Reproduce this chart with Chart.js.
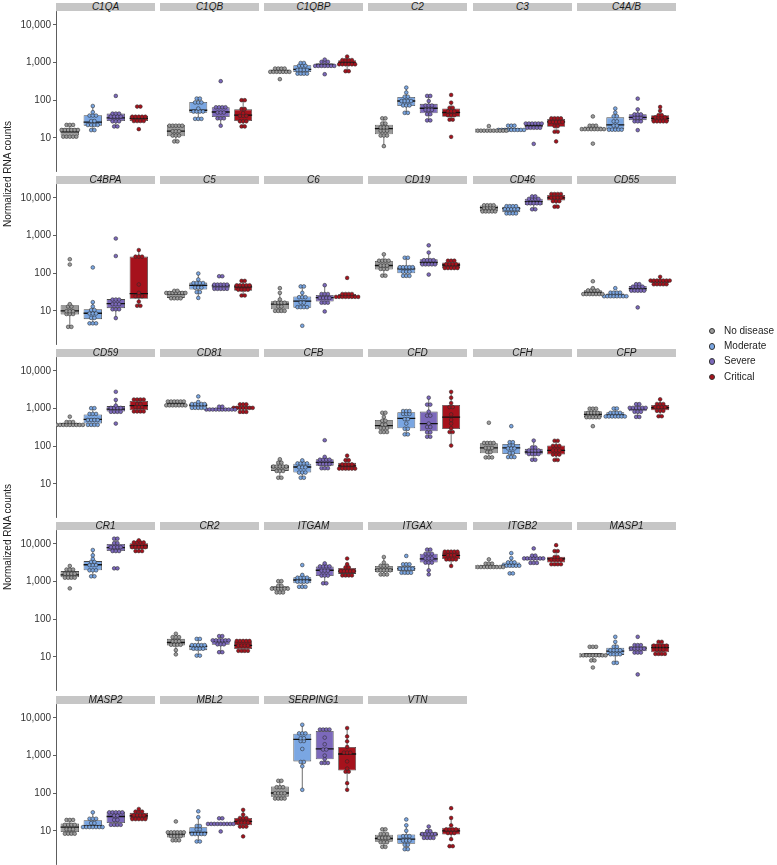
<!DOCTYPE html>
<html><head><meta charset="utf-8">
<script src="https://cdn.jsdelivr.net/npm/chart.js@4.4.1/dist/chart.umd.min.js"></script>
<style>
html,body{margin:0;padding:0;background:#fff;}
#wrap{position:relative;width:777px;height:865px;overflow:hidden;font-family:"Liberation Sans",Arial,sans-serif;}
.strip{position:absolute;height:8px;background:#c6c6c6;color:#1a1a1a;font-style:italic;font-size:10px;line-height:8px;text-align:center;white-space:nowrap;overflow:visible;}
canvas{position:absolute;}
.ytitle{position:absolute;font-size:10px;color:#222;white-space:nowrap;transform:translate(-50%,-50%) rotate(-90deg);}
.leg{position:absolute;font-size:10px;color:#222;white-space:nowrap;line-height:12px;}
.dot{position:absolute;width:4.5px;height:4.5px;border-radius:50%;border:0.6px solid #333;}
</style>
</head><body><div id="wrap"></div>
<script>
// ---------- data ----------
const groups = ['No disease', 'Moderate', 'Severe', 'Critical'];
const genes = ['C1QA','C1QB','C1QBP','C2','C3','C4A/B',
               'C4BPA','C5','C6','CD19','CD46','CD55',
               'CD59','CD81','CFB','CFD','CFH','CFP',
               'CR1','CR2','ITGAM','ITGAX','ITGB2','MASP1',
               'MASP2','MBL2','SERPING1','VTN'];
const yTicks = [10, 100, 1000, 10000];

// each gene: [No disease, Moderate, Severe, Critical] normalized counts
const C1QA = [[22,22,22,18,18,18,14.5,14.5,14.5,11.5,11.5,10,10,10],[70,48,40,40,38,30,26,24,22,21,20,16,16],[130,44,44,44,40,35,34,34,30,28,25,20,20],[73,63,40,38,35,33,33,30,28,28,26,17]];
const C1QB = [[22,22,22,22,20,16,15,14,12,11,11,8,8],[122,100,95,90,80,60,54,52,48,46,35,30,29],[320,70,66,64,60,50,47,44,36,34,30,21],[100,100,60,57,45,42,40,35,30,28,25,20,20]];
const C1QBP = [[740,700,680,650,620,600,600,580,560,540,520,362],[1000,950,900,850,760,700,660,620,580,560,520,480,460],[1200,1150,1000,950,900,880,870,850,800,780,740,490],[1450,1300,1230,1150,1050,1000,980,950,900,850,810,600,580]];
const C2 = [[33,33,25,23,20,18,18,17,15,14,12,11,11,6],[216,160,125,122,100,100,95,90,80,70,66,46,46],[130,130,95,80,75,65,61,55,50,45,40,30,28],[138,86,66,60,55,50,47,44,40,36,33,28,10.6]];
const C3 = [[20.5,16,16,16,16,15.5,15.5,15.5,15.5,15,15,15,15],[21,21,21,17.5,17,17,17,16.5,16,16,15,15],[25,25,25,25,25,23,19,19,19,19,18,6.9],[33,33,33,33,28,28,28,25,25,22,19,14.5,14.5,8]];
const C4AB = [[37,22,20,20,18,17,17,17,16,16,16,16,7],[60,47,40,35,30,25,22,20,18,17,16,16,15],[110,57,44,42,40,36,34,32,30,28,25,16],[66,52,40,40,38,35,33,32,30,28,26,26,25]];
const C4BPA = [[235,170,15,14,12,10,10,9.5,9,8,7.5,4,3.5],[142,17,13,11,10,9,8.6,8,7,6,5,5,4.3],[835,286,22,20,18,16,15,14,12,11,10,6.4],[412,276,276,276,50,30,27,25,22,17.6,13.6,13.6]];
const C5 = [[34,34,33,33,28,28,28,28,27,22,22,21,21],[98,68,60,55,50,50,45,40,38,33,30,22],[83,83,55,52,50,47,45,42,40,38,37,35],[65,60,53,50,47,45,43,40,37,34,33,26,25]];
const C6 = [[40,30,20,18,16,15,15,14,12,11,10,9,9],[47,42,30,24,23,22,18,15,13,12,12,12,4],[48,30,28,26,24,23,22,20,18,17,15,9.6],[75,28,28,28,28,25,25,25,25,22,22,22,22]];
const CD19 = [[318,230,220,210,200,170,160,150,140,125,120,92,80],[260,255,160,150,140,140,130,120,110,100,90,80,80],[550,355,245,230,210,200,190,180,170,160,155,92],[230,220,200,190,180,170,160,150,140,130,130,125]];
const CD46 = [[6500,6500,6300,6300,6000,5800,5500,5000,4800,4500,4200,4000,4000],[6300,6300,6000,5800,5600,5500,5300,5000,4600,4200,3800,3700,3600],[11000,11000,10500,9500,9000,8500,8000,7500,7000,6500,6500,5000,5000],[13500,13000,12500,12000,11000,10500,10000,9500,9000,8500,7500,6000,5700]];
const CD55 = [[61,40,38,35,33,32,31,30,29,28,27,26,25],[40,33,31,29,28,27,26,26,25,24,23,22,22],[52,50,48,45,42,40,38,36,34,32,31,12.3],[80,70,68,66,64,62,60,58,56,54,52,50,46]];
const CD59 = [[610,460,450,420,410,400,400,390,380,370,350,340,330],[1050,1000,800,700,650,550,515,480,450,400,380,350,340],[2800,1700,1200,1150,1000,990,950,900,850,800,750,400],[1900,1800,1700,1600,1400,1250,1200,1100,1000,900,850,800,780]];
const CD81 = [[1700,1650,1600,1550,1450,1400,1350,1300,1250,1200,1150,1100,1100],[2100,1500,1450,1350,1300,1250,1200,1150,1100,1050,1000,950],[1150,1100,1050,1000,1000,980,950,920,900,880,860,850],[1400,1300,1200,1150,1100,1080,1050,1000,1000,950,900,750,740]];
const CFB = [[45,38,35,32,30,29,28,26,24,22,20,15,14],[42,38,36,34,32,30,28,25,22,20,18,15,14],[144,52,48,45,42,40,37,35,33,30,28,25,24],[56,45,40,36,34,32,30,28,27,26,25,24,23]];
const CFD = [[800,750,600,500,450,400,350,330,300,280,260,230,218],[900,850,820,800,700,650,550,500,400,300,280,230,185],[1950,1300,1250,830,700,600,400,350,300,250,220,190,167],[2780,1950,1400,1200,1000,700,500,400,300,250,227,104]];
const CFH = [[420,135,130,120,110,95,90,85,75,65,55,50,46],[340,130,125,115,100,95,90,80,70,62,55,50,48],[141,95,90,85,80,75,70,68,65,60,56,45,42],[144,135,110,105,95,85,77,70,65,60,55,44,42]];
const CFP = [[1100,950,900,850,800,750,700,650,620,600,560,535,340],[1120,900,850,800,750,700,680,650,620,600,580,570,560],[1430,1200,1150,1100,1050,1000,980,950,900,850,750,600,600],[1770,1400,1300,1250,1200,1100,1050,1000,950,900,800,650,600]];
const CR1 = [[2600,2300,2100,1900,1800,1600,1500,1450,1400,1300,1200,1150,660],[6900,5000,4000,3500,3200,3000,2800,2500,2200,2000,1800,1500,1270],[14700,13000,11000,10000,9000,8500,8000,7500,7000,6500,6000,2300,2200],[12500,12000,11000,10500,10000,9000,8900,8500,8000,7500,7000,6500,6000]];
const CR2 = [[41,37,33,30,28,26,24,23,22,20,19,15,11.6],[32,28,22,21,20,19,19,18,17,15,15,11,10.5],[36,35,30,29,28,27,26,25,23,21,20,13.5,13],[29,28,27,26,24,22,20,19,18,16,14,13,13]];
const ITGAM = [[1050,1000,800,750,700,700,690,650,620,600,550,500,480],[2750,1500,1400,1300,1200,1150,1100,1000,950,900,800,700,660],[3050,2800,2700,2500,2300,2100,2000,1800,1600,1400,1300,1000,810],[4100,2900,2500,2300,2100,2000,1900,1800,1700,1600,1500,1400,1330]];
const ITGAX = [[4500,3200,2900,2600,2400,2200,2100,2000,1900,1800,1700,1500,1400],[4800,3200,2800,2600,2400,2300,2200,2100,2000,1900,1700,1600,1550],[7700,6500,6000,5500,5000,4500,4000,3800,3500,3200,2900,2000,1550],[6700,6500,6300,6000,5800,5500,5000,4600,4300,4000,3800,3500,2600]];
const ITGB2 = [[3900,3200,3100,2800,2700,2600,2500,2400,2400,2300,2300,2250,2250,2200],[5700,4200,3500,3200,3000,2900,2800,2700,2600,2500,2400,1700,1600],[7600,5000,4800,4600,4400,4300,4200,4000,3800,3700,3400,3000,2900],[9300,7000,6000,4600,4400,4200,4000,3700,3500,3200,3000,2800,2600]];
const MASP1 = [[20,17,17,12,12,12,12,12,12,12,10,10,8,8,5.2],[34,25,19,18,16,15,14.3,14,13,12,11,10.5,7,6.8],[34,22,20,19,18,17,17,16,15,14,13,12,3.4],[25,25,22,22,20,19,18,17,16,14,13,12,11,11]];
const MASP2 = [[21,19,18,16,15,14,13,12,11,10,9,8.5,8,7.8],[31,23,21,19,17,15,13.6,13,12,12,12,12,11.6],[32,32,32,32,30,27,24,21,18,16,14,13,13],[38,35,32,30,28,26,25,24,22,21,20,20,19]];
const MBL2 = [[17.7,10,9.5,9,9,8.5,8.3,8,7.5,7,6.5,6,5.2,5.2],[33,23,14.4,12.5,12,10,9,9,8.5,8,7.5,5.2,5.2],[22,21,16,16,16,15.6,15.6,15.5,15.5,15,14.5,9.6],[36,27,24,22,20,18,17.7,17,15,14,13.3,12,7.1]];
const SERPING1 = [[228,200,160,150,130,110,101,95,90,80,75,70,65],[6600,4000,3900,3800,3000,2800,2700,2200,1500,700,650,520,123],[5400,5300,5000,4500,3000,2000,1500,1400,1000,800,700,600,580],[5400,3230,2390,1700,1300,1160,1100,700,450,400,350,185,123]];
const VTN = [[12,10,9,8,7.5,7,6.5,6,6,5.5,5,4.5,4,3.5],[20,14,10,8,7,6.5,6,5.5,5,4.5,4,3.5,3],[13,10,9.5,9,8.5,8,8,7.5,7,7,6.5,6],[40,22,14,12,11,10.5,10,9.5,9,8,6,4,3.8]];

const geneValues = [C1QA,C1QB,C1QBP,C2,C3,C4AB,C4BPA,C5,C6,CD19,CD46,CD55,CD59,CD81,CFB,CFD,CFH,CFP,CR1,CR2,ITGAM,ITGAX,ITGB2,MASP1,MASP2,MBL2,SERPING1,VTN];

// ---------- style / layout ----------
const groupColors = ['#9c9c9c', '#7aa6e2', '#7c69bb', '#a6121c'];
const FONT = '"Liberation Sans", Arial, sans-serif';
const colLeft = [56, 160, 264, 368, 473, 577];
const stripTop = [3, 176, 349, 522, 696];
const PW = 99, PH = 160, STRIP_H = 8, M = 12;
const Y_MIN = 1.31, Y_MAX = 23500;
const BIN = 0.095;     // dot-density bin width (log10 units)
const STEP = 0.142;    // horizontal dot spacing (x units)

Chart.defaults.font.family = FONT;

function fmt(v) { return String(v).replace(/\B(?=(\d{3})+(?!\d))/g, ','); }
function quant(s, p) { const h = (s.length - 1) * p, lo = Math.floor(h), hi = Math.min(lo + 1, s.length - 1); return s[lo] + (h - lo) * (s[hi] - s[lo]); }
function boxStats(vals) {
  const l = vals.map(v => Math.log10(v)).sort((a, b) => a - b);
  const q1 = quant(l, 0.25), med = quant(l, 0.5), q3 = quant(l, 0.75), iqr = q3 - q1;
  const lo = l.filter(v => v >= q1 - 1.5 * iqr)[0];
  const inr = l.filter(v => v <= q3 + 1.5 * iqr);
  const hi = inr[inr.length - 1];
  const p = v => Math.pow(10, v);
  return { q1: p(q1), med: p(med), q3: p(q3), lo: p(lo), hi: p(hi) };
}
function dotLayout(vals, xc) {
  const l = vals.map(v => Math.log10(v)).sort((a, b) => a - b);
  const out = [];
  let i = 0;
  while (i < l.length) {
    let j = i;
    while (j < l.length && l[j] < l[i] + BIN) j++;
    const c = (l[i] + l[j - 1]) / 2, n = j - i;
    for (let k = 0; k < n; k++) out.push({ x: xc + (k - (n - 1) / 2) * STEP, y: Math.pow(10, c) });
    i = j;
  }
  return out;
}

const wrap = document.getElementById('wrap');

genes.forEach((g, k) => {
  const row = Math.floor(k / 6), col = k % 6;
  const first = col === 0;
  // strip
  const st = document.createElement('div');
  st.className = 'strip';
  st.style.left = colLeft[col] + 'px';
  st.style.top = stripTop[row] + 'px';
  st.style.width = PW + 'px';
  st.textContent = g;
  wrap.appendChild(st);

  const vals = geneValues[k];
  const stats = vals.map(boxStats);
  const whisk = [], meds = [];
  stats.forEach((s, i) => {
    const x = i + 1;
    whisk.push({ x, y: s.lo }, { x, y: s.q1 }, { x, y: null }, { x, y: s.q3 }, { x, y: s.hi }, { x, y: null });
    meds.push({ x: x - 0.4, y: s.med }, { x: x + 0.4, y: s.med }, { x, y: null });
  });
  const datasets = [];
  vals.forEach((v, i) => {
    datasets.push({
      type: 'scatter', label: groups[i], data: dotLayout(v, i + 1), order: 0,
      pointRadius: 1.85, pointHoverRadius: 1.85, pointBorderWidth: 0.55,
      pointBackgroundColor: groupColors[i], pointBorderColor: '#2a2a2a'
    });
  });
  datasets.push({ type: 'scatter', showLine: true, data: meds, order: 1, borderColor: '#111', borderWidth: 1.3, pointRadius: 0, spanGaps: false });
  datasets.push({
    type: 'bar', data: stats.map((s, i) => ({ x: i + 1, y: [s.q1, s.q3] })), order: 2,
    backgroundColor: groupColors, borderColor: '#4a4a4a', borderWidth: 0.8, borderSkipped: false,
    categoryPercentage: 0.8, barPercentage: 1
  });
  datasets.push({ type: 'scatter', showLine: true, data: whisk, order: 3, borderColor: '#4a4a4a', borderWidth: 0.8, pointRadius: 0, spanGaps: false });

  const cv = document.createElement('canvas');
  const left = first ? 0 : colLeft[col];
  const w = first ? colLeft[0] + PW : PW;
  const h = PH + 2 * M;
  cv.width = w; cv.height = h;
  cv.style.left = left + 'px';
  cv.style.top = (stripTop[row] + STRIP_H - M) + 'px';
  cv.style.width = w + 'px'; cv.style.height = h + 'px';
  wrap.appendChild(cv);

  const yScale = {
    type: 'logarithmic', min: Y_MIN, max: Y_MAX, beginAtZero: false, display: first,
    afterBuildTicks: s => { s.ticks = yTicks.map(v => ({ value: v })); },
    ticks: { callback: v => fmt(v), font: { size: 10 }, color: '#333', padding: 2, autoSkip: false },
    grid: { display: true, drawOnChartArea: false, drawTicks: true, tickLength: 3, color: '#333', lineWidth: 0.8 },
    border: { display: true, color: '#333', width: 0.8 }
  };
  if (first) yScale.afterFit = s => { s.width = colLeft[0]; };

  new Chart(cv, {
    type: 'scatter',
    data: { datasets },
    options: {
      responsive: false, animation: false, devicePixelRatio: 1,
      layout: { padding: { top: M, bottom: M, left: 0, right: 0 } },
      plugins: { legend: { display: false }, tooltip: { enabled: false } },
      events: [],
      scales: {
        x: { type: 'linear', min: 0.4, max: 4.6, offset: false, display: false },
        y: yScale
      }
    }
  });
});

// y-axis titles
[174, 537].forEach(cy => {
  const t = document.createElement('div');
  t.className = 'ytitle';
  t.style.left = '7px'; t.style.top = cy + 'px';
  t.textContent = 'Normalized RNA counts';
  wrap.appendChild(t);
});

// legend
groups.forEach((g, i) => {
  const cy = 330.7 + 15.3 * i;
  const d = document.createElement('div');
  d.className = 'dot';
  d.style.background = groupColors[i];
  d.style.left = (711.7 - 2.85) + 'px'; d.style.top = (cy - 2.85) + 'px';
  wrap.appendChild(d);
  const t = document.createElement('div');
  t.className = 'leg';
  t.style.left = '724px'; t.style.top = (cy - 6) + 'px';
  t.textContent = g;
  wrap.appendChild(t);
});
</script>
</body></html>
